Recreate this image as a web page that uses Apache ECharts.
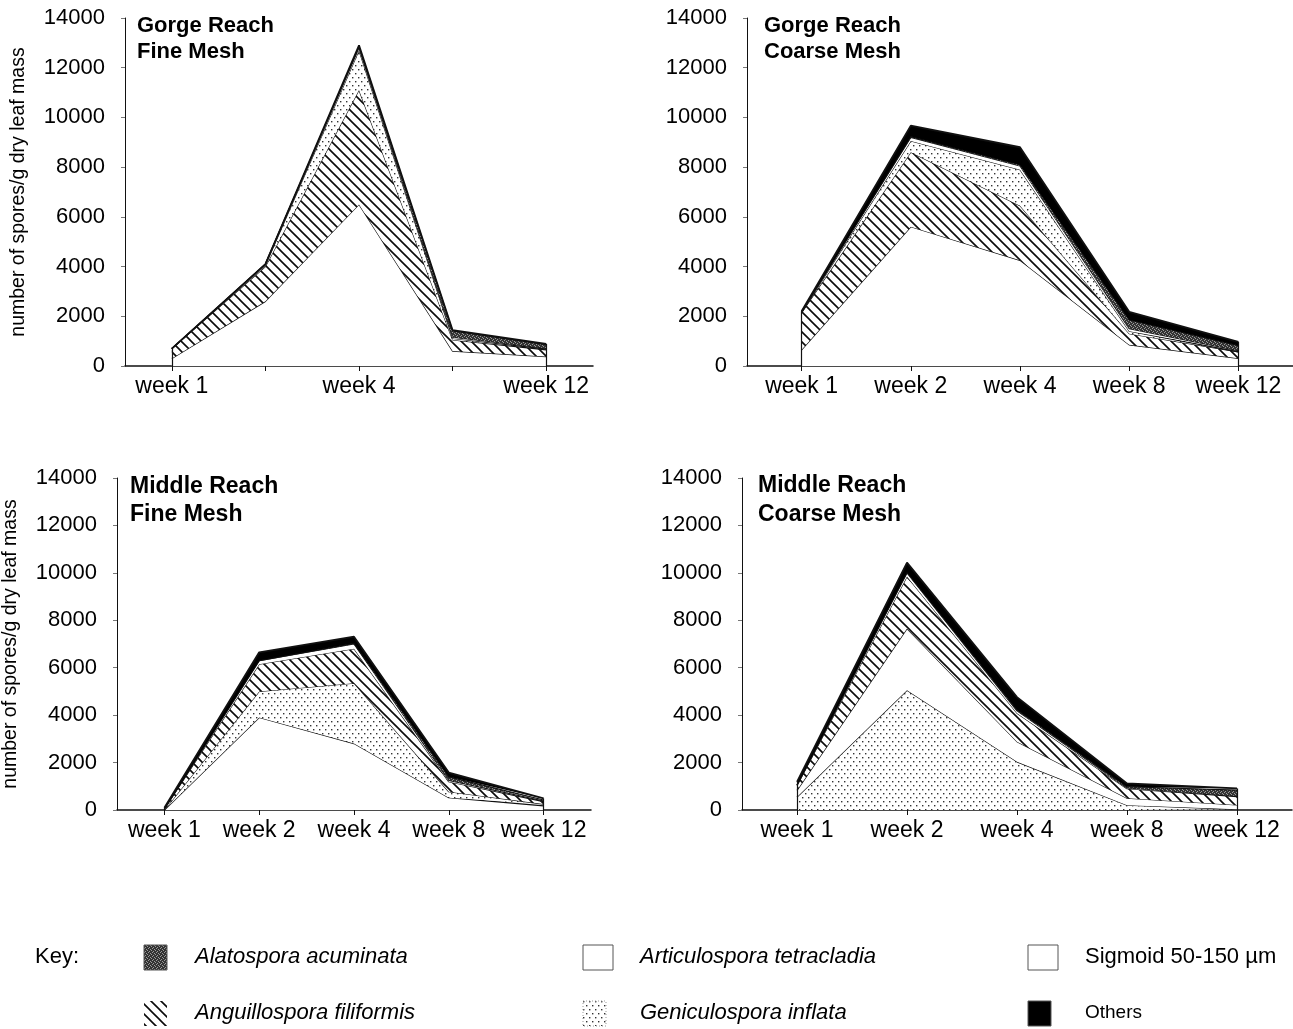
<!DOCTYPE html>
<html>
<head>
<meta charset="utf-8">
<script src="https://cdn.jsdelivr.net/npm/echarts@6/dist/echarts.min.js"></script>
<style>
  html, body { margin: 0; padding: 0; background: #ffffff; }
  #chart { width: 1293px; height: 1029px; }
</style>
</head>
<body>
<div id="chart"></div>
<script>
// Sampling dates shared by every panel
const weeks = ['week 1', 'week 2', 'week 4', 'week 8', 'week 12'];
// Value axis: spores per g dry leaf mass
const yMin = 0;
const yMax = 14000;
const yStep = 2000;

// Gorge Reach, fine mesh
const gfArticulospora = [300, 2600, 6500, 600, 380];
const gfAnguillospora = [400, 1400, 4600, 450, 270];
const gfGeniculospora = [0, 50, 1600, 60, 30];
const gfSigmoid = [0, 50, 100, 50, 30];
const gfAlatospora = [0, 0, 50, 250, 150];
const gfOthers = [0, 0, 50, 30, 30];

// Gorge Reach, coarse mesh
const gcArticulospora = [650, 5600, 4250, 850, 310];
const gcAnguillospora = [1500, 3000, 2200, 450, 260];
const gcGeniculospora = [0, 450, 1450, 100, 0];
const gcSigmoid = [30, 150, 150, 100, 50];
const gcAlatospora = [0, 30, 50, 350, 200];
const gcOthers = [20, 440, 700, 330, 150];

// Middle Reach, fine mesh
const mfArticulospora = [0, 3900, 2800, 520, 170];
const mfGeniculospora = [0, 1100, 2550, 250, 80];
const mfAnguillospora = [50, 1150, 1450, 420, 100];
const mfSigmoid = [0, 150, 200, 60, 30];
const mfAlatospora = [0, 0, 30, 150, 40];
const mfOthers = [50, 350, 280, 180, 70];

// Middle Reach, coarse mesh
const mcGeniculospora = [550, 5050, 2030, 200, 30];
const mcArticulospora = [280, 2600, 850, 300, 180];
const mcAnguillospora = [200, 2200, 1200, 400, 350];
const mcSigmoid = [20, 150, 100, 30, 30];
const mcAlatospora = [0, 30, 50, 50, 250];
const mcOthers = [140, 400, 530, 140, 70];

const ALA = 'Alatospora acuminata';
const ANG = 'Anguillospora filiformis';
const ART = 'Articulospora tetracladia';
const GEN = 'Geniculospora inflata';
const SIG = 'Sigmoid 50-150 \u00b5m';
const OTH = 'Others';

const FONT = "'Liberation Sans', Arial, Helvetica, sans-serif";

// ---- fill patterns -------------------------------------------------------
function makeTile(w, h, draw) {
  const c = document.createElement('canvas');
  c.width = w; c.height = h;
  draw(c.getContext('2d'), w, h);
  return c;
}
const hatchTile = makeTile(10, 10, (g) => {
  g.fillStyle = '#ffffff'; g.fillRect(0, 0, 10, 10);
  g.strokeStyle = '#0a0a0a'; g.lineWidth = 1.6; g.lineCap = 'square';
  g.beginPath();
  g.moveTo(-2, -2); g.lineTo(12, 12);
  g.moveTo(-2, 8); g.lineTo(2, 12);
  g.moveTo(8, -2); g.lineTo(12, 2);
  g.stroke();
});
const dotTile = makeTile(6, 8, (g) => {
  g.fillStyle = '#ffffff'; g.fillRect(0, 0, 6, 8);
  g.fillStyle = '#333333';
  g.fillRect(1, 1, 1.4, 1.4);
  g.fillRect(4, 5, 1.4, 1.4);
});
const greyTile = makeTile(4, 4, (g) => {
  g.fillStyle = '#333333'; g.fillRect(0, 0, 4, 4);
  g.fillStyle = '#9a9a9a';
  [[0, 0], [2, 1], [1, 3], [3, 2]].forEach(([x, y]) => g.fillRect(x, y, 1, 1));
});
const pat = (tile) => ({ image: tile, repeat: 'repeat' });

const fills = {};
fills[ALA] = pat(greyTile);
fills[ANG] = pat(hatchTile);
fills[ART] = '#ffffff';
fills[GEN] = pat(dotTile);
fills[SIG] = '#ffffff';
fills[OTH] = '#000000';

// ---- panels (layers listed bottom to top) --------------------------------
const panels = [
  {
    title: 'Gorge Reach\nFine Mesh', stack: 'gf',
    grid: { left: 125, top: 18, width: 468, height: 348 },
    titlePos: { left: 137, top: 13 }, titleSize: 22, lineH: 26,
    yName: true, labelEvery: 1,
    layers: [[ART, gfArticulospora], [ANG, gfAnguillospora], [GEN, gfGeniculospora],
             [SIG, gfSigmoid], [ALA, gfAlatospora], [OTH, gfOthers]]
  },
  {
    title: 'Gorge Reach\nCoarse Mesh', stack: 'gc',
    grid: { left: 747, top: 18, width: 546, height: 348 },
    titlePos: { left: 764, top: 13 }, titleSize: 22, lineH: 26,
    yName: false, labelEvery: 0,
    layers: [[ART, gcArticulospora], [ANG, gcAnguillospora], [GEN, gcGeniculospora],
             [SIG, gcSigmoid], [ALA, gcAlatospora], [OTH, gcOthers]]
  },
  {
    title: 'Middle Reach\nFine Mesh', stack: 'mf',
    grid: { left: 116, top: 478, width: 475, height: 332 },
    titlePos: { left: 130, top: 473 }, titleSize: 23, lineH: 28,
    yName: true, labelEvery: 0,
    layers: [[ART, mfArticulospora], [GEN, mfGeniculospora], [ANG, mfAnguillospora],
             [SIG, mfSigmoid], [ALA, mfAlatospora], [OTH, mfOthers]]
  },
  {
    title: 'Middle Reach\nCoarse Mesh', stack: 'mc',
    grid: { left: 742, top: 478, width: 550, height: 332 },
    titlePos: { left: 758, top: 471 }, titleSize: 23, lineH: 29,
    yName: false, labelEvery: 0,
    layers: [[GEN, mcGeniculospora], [ART, mcArticulospora], [ANG, mcAnguillospora],
             [SIG, mcSigmoid], [ALA, mcAlatospora], [OTH, mcOthers]]
  }
];

const grids = [], xAxes = [], yAxes = [], series = [], titles = [];

panels.forEach((p, i) => {
  grids.push(Object.assign({ containLabel: false }, p.grid));
  titles.push({
    text: p.title, left: p.titlePos.left, top: p.titlePos.top, padding: 0,
    textStyle: { fontFamily: FONT, fontSize: p.titleSize, fontWeight: 'bold',
                 color: '#000', lineHeight: p.lineH }
  });
  xAxes.push({
    type: 'category', gridIndex: i, data: weeks, boundaryGap: true,
    axisLine: { show: true, lineStyle: { color: '#111', width: 1.5 } },
    axisTick: { show: true, interval: 0, alignWithLabel: true, length: 5,
                lineStyle: { color: '#111', width: 1 } },
    axisLabel: { interval: p.labelEvery, color: '#000', fontFamily: FONT,
                 fontSize: 23, margin: 9 },
    splitLine: { show: false }
  });
  yAxes.push({
    type: 'value', gridIndex: i, min: yMin, max: yMax, interval: yStep,
    axisLine: { show: true, lineStyle: { color: '#111', width: 1 } },
    axisTick: { show: true, length: 4, lineStyle: { color: '#777', width: 1 } },
    axisLabel: { color: '#000', fontFamily: FONT, fontSize: 22, margin: 20,
                 formatter: (v) => String(v) },
    splitLine: { show: false },
    name: p.yName ? 'number of spores/g dry leaf mass' : '',
    nameLocation: 'middle', nameGap: 96, nameRotate: 90,
    nameTextStyle: { fontFamily: FONT, fontSize: 19.5, color: '#000' }
  });

  const totals = weeks.map((_, k) => p.layers.reduce((s, l) => s + l[1][k], 0));
  const last = weeks.length - 1;
  p.layers.forEach(([name, values], k) => {
    const s = {
      type: 'line', name, stack: p.stack, xAxisIndex: i, yAxisIndex: i,
      data: values, symbol: 'none', showSymbol: false, silent: true,
      animation: false,
      lineStyle: { color: '#111', width: k === p.layers.length - 1 ? 1.8 : 1.2 },
      areaStyle: { color: fills[name], opacity: 1 },
      emphasis: { disabled: true },
      z: 2 + k * 0.01
    };
    if (k === p.layers.length - 1) {
      // closing edges of the stacked block at the first and last dates
      s.markLine = {
        silent: true, symbol: ['none', 'none'], animation: false,
        label: { show: false },
        lineStyle: { color: '#111', width: 1.2, type: 'solid' },
        data: [
          [{ coord: [weeks[0], 0] }, { coord: [weeks[0], totals[0]] }],
          [{ coord: [weeks[last], 0] }, { coord: [weeks[last], totals[last]] }]
        ]
      };
    }
    series.push(s);
  });
});

// ---- key --------------------------------------------------------------------
const keyRow1 = [ALA, ART, SIG];
const keyRow2 = [ANG, GEN, OTH];
const keyCols = [{ box: 144, text: 195 }, { box: 583, text: 640 }, { box: 1028, text: 1085 }];
const keyRowsY = [957, 1013];
const graphics = [{
  type: 'text', x: 35, y: keyRowsY[0],
  style: { text: 'Key:', font: '22px ' + FONT, fill: '#000', verticalAlign: 'middle' }
}];
[keyRow1, keyRow2].forEach((row, r) => {
  row.forEach((name, c) => {
    const col = keyCols[c];
    const cy = keyRowsY[r];
    const isBlank = name === ART || name === SIG;
    const isDots = name === GEN;
    graphics.push({
      type: 'rect', shape: { x: col.box, y: cy - 12, width: isBlank ? 30 : 23, height: 25 },
      style: {
        fill: fills[name],
        stroke: name === ANG ? null : (isDots ? '#999' : '#555'),
        lineWidth: 1, lineDash: isDots ? [1, 2] : null
      }
    });
    const upright = name === SIG || name === OTH;
    graphics.push({
      type: 'text', x: col.text, y: cy,
      style: {
        text: name, fill: '#000', verticalAlign: 'middle',
        font: (upright ? '' : 'italic ') + (name === OTH ? '19px ' : '22px ') + FONT
      }
    });
  });
});

const chart = echarts.init(document.getElementById('chart'), null, { renderer: 'canvas' });
chart.setOption({
  backgroundColor: '#ffffff',
  animation: false,
  title: titles,
  grid: grids,
  xAxis: xAxes,
  yAxis: yAxes,
  series: series,
  graphic: graphics
});
</script>
</body>
</html>
